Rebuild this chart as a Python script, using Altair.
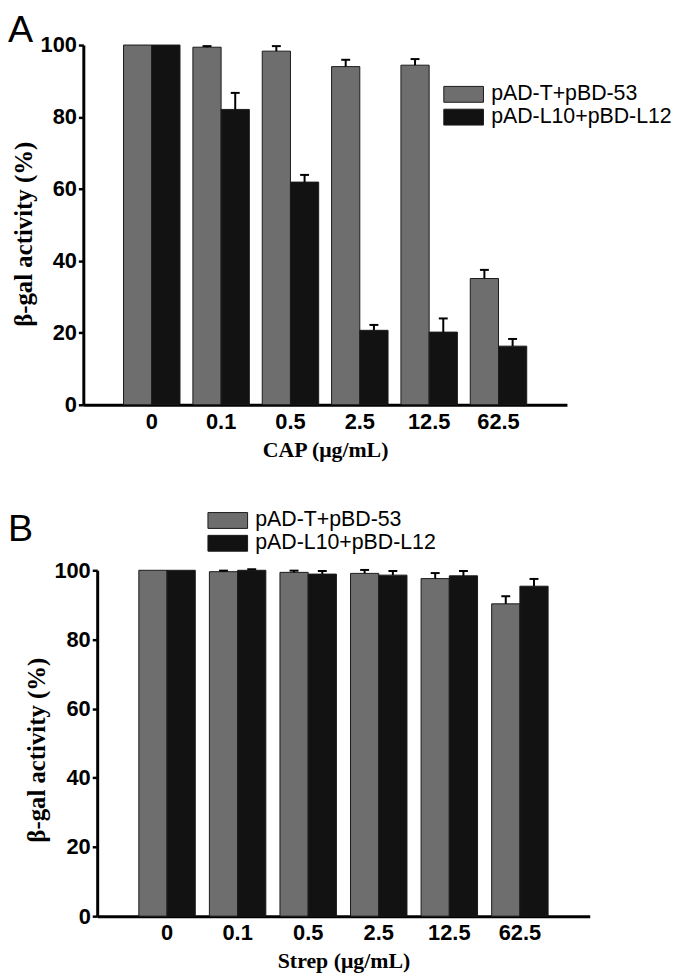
import altair as alt
import pandas as pd

conc = ["0", "0.1", "0.5", "2.5", "12.5", "62.5"]
series = ["pAD-T+pBD-53", "pAD-L10+pBD-L12"]
colors = ["#6e6e6e", "#121212"]

cap_t53 = [100, 99.4, 98.3, 94.0, 94.4, 35.1]
cap_t53_err = [0, 0.3, 1.4, 1.9, 1.7, 2.4]
cap_l10 = [100, 82.1, 61.9, 20.7, 20.2, 16.3]
cap_l10_err = [0, 4.6, 2.0, 1.5, 3.8, 2.0]

strep_t53 = [100, 99.6, 99.4, 99.1, 97.6, 90.3]
strep_t53_err = [0, 0.3, 0.5, 1.0, 1.6, 2.2]
strep_l10 = [100, 100, 98.9, 98.6, 98.4, 95.4]
strep_l10_err = [0, 0.3, 0.9, 1.2, 1.4, 2.1]

y_ticks = [0, 20, 40, 60, 80, 100]


def long_df(a, a_err, b, b_err):
    rows = []
    for i, c in enumerate(conc):
        rows.append(dict(conc=c, series=series[0], value=a[i], err=a_err[i], top=a[i] + a_err[i]))
        rows.append(dict(conc=c, series=series[1], value=b[i], err=b_err[i], top=b[i] + b_err[i]))
    return pd.DataFrame(rows)


def panel(df, letter, xtitle, width, height, x_range, y_offset, pi, po,
          legend_x, legend_y, title_y, letter_x, letter_y):
    sargs = dict(paddingInner=pi, paddingOuter=po)
    if x_range is not None:
        sargs["range"] = x_range
    x = alt.X("conc:N", sort=conc, scale=alt.Scale(**sargs),
              axis=alt.Axis(title=xtitle, labelAngle=0, ticks=False, tickSize=0,
                            domainWidth=3, domainColor="black",
                            labelFont="Liberation Sans", labelFontWeight="bold",
                            labelFontSize=22, labelColor="black", labelPadding=7,
                            titleFont="Liberation Serif", titleFontWeight="bold",
                            titleFontSize=22, titleColor="black", titlePadding=7))
    xo = alt.XOffset("series:N", sort=series,
                     scale=alt.Scale(domain=series, paddingInner=0, paddingOuter=0))
    yaxis = alt.Axis(title="β-gal activity (%)", values=y_ticks, grid=False,
                     domainWidth=3, domainColor="black", tickWidth=2.5,
                     tickColor="black", tickSize=5,
                     labelFont="Liberation Sans", labelFontSize=22,
                     labelFontWeight="bold", labelColor="black", labelPadding=2,
                     titleFont="Liberation Serif", titleFontSize=25,
                     titleFontWeight="bold", titleColor="black", titlePadding=4,
                     titleY=title_y, offset=y_offset)
    yscale = alt.Scale(domain=[0, 100], nice=False, zero=True)
    y = alt.Y("value:Q", scale=yscale, axis=yaxis)
    color = alt.Color("series:N", sort=series,
                      scale=alt.Scale(domain=series, range=colors),
                      legend=alt.Legend(title=None, orient="none",
                                        legendX=legend_x, legendY=legend_y,
                                        symbolType="M-2.5,-1H2.5V1H-2.5Z",
                                        symbolSize=256, symbolStrokeColor="#1a1a1a",
                                        symbolStrokeWidth=1, symbolOpacity=1,
                                        labelFont="Liberation Sans", labelFontSize=21.5,
                                        labelColor="black", labelOffset=17,
                                        labelLimit=0, rowPadding=0, padding=0))
    bars = alt.Chart(df).mark_bar(stroke="#1a1a1a", strokeWidth=1, opacity=1).encode(
        x=x, xOffset=xo, y=y, color=color)
    edf = df[df.err > 0]
    rules = alt.Chart(edf).mark_rule(color="black", strokeWidth=2).encode(
        x=x, xOffset=xo, y=y, y2="top:Q")
    caps = alt.Chart(edf).mark_tick(color="black", thickness=2, size=9, opacity=1).encode(
        x=x, xOffset=xo, y=alt.Y("top:Q", scale=yscale, axis=yaxis))
    lab = alt.Chart(pd.DataFrame({"letter": [letter]})).mark_text(
        font="Liberation Sans", fontSize=38, color="black", align="left",
        baseline="alphabetic").encode(
        text="letter:N", x=alt.value(letter_x), y=alt.value(letter_y))
    return alt.layer(bars, rules, caps, lab).properties(width=width, height=height)


dfa = long_df(cap_t53, cap_t53_err, cap_l10, cap_l10_err)
dfb = long_df(strep_t53, strep_t53_err, strep_l10, strep_l10_err)

pa = panel(dfa, "A", "CAP (μg/mL)", 488, 363, None, 0, 0.186, 0.58,
           373, 39, 190.5, -76, -3)
pb = panel(dfb, "B", "Strep (μg/mL)", 511, 349, [14, 511], -14, 0.2, 0.59,
           135, -61, 181, -76, -30)

chart = alt.vconcat(pa, pb, spacing=50).resolve_scale(
    color="independent"
).resolve_legend(color="independent").properties(
    padding={"left": 0, "top": 0, "right": 0, "bottom": 0}
).configure_view(stroke=None)

chart.save("out.html", embed_options={"renderer": "svg", "actions": False})
